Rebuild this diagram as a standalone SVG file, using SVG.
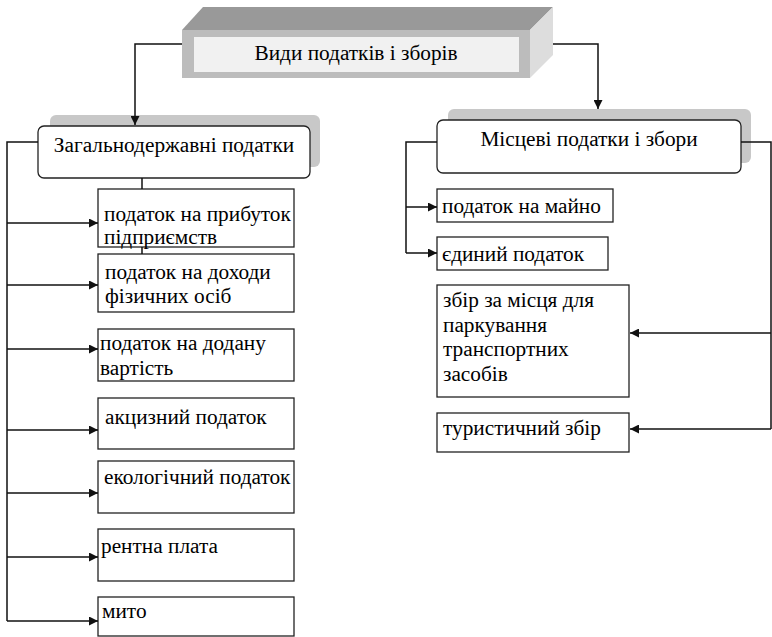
<svg xmlns="http://www.w3.org/2000/svg" width="772" height="637" viewBox="0 0 772 637" font-family="'Liberation Serif', 'Times New Roman', serif" font-size="21.3">
  <defs>
    <style>
      text { fill: #000; }
      .box { fill: #fff; stroke: #222; stroke-width: 1.3; }
      .rbox { fill: #fff; stroke: #222; stroke-width: 1.3; }
      .shadow { fill: #c8c8c8; }
      .wire { fill: none; stroke: #111; stroke-width: 1.5; }
    </style>
    <marker id="arrow" viewBox="0 0 10 10" refX="10" refY="5" markerWidth="10" markerHeight="9" markerUnits="userSpaceOnUse" orient="auto">
      <path d="M0,0 L10,5 L0,10 Z" fill="#111"/>
    </marker>
  </defs>

  <rect width="772" height="637" fill="#fff"/>

  <!-- root: 3D block -->
  <g id="root">
    <polygon points="182,30 203,7 553,7 530,30" fill="#999"/>
    <polygon points="530,30 553,7 553,55 530,78" fill="#ddd"/>
    <rect x="182" y="30" width="348" height="48" fill="#bcbcbc"/>
    <rect x="194" y="37" width="325" height="35" fill="#f1f1f1"/>
    <text x="356" y="60" text-anchor="middle">Види податків і зборів</text>
  </g>

  <!-- national taxes -->
  <g id="national">
    <rect class="shadow" x="50" y="115" width="270" height="52" rx="6"/>
    <rect class="rbox" x="38" y="126" width="272" height="52" rx="6"/>
    <text x="174" y="152" text-anchor="middle">Загальнодержавні податки</text>
  </g>

  <g id="n1">
    <rect class="box" x="98" y="189" width="196" height="58"/>
    <text x="104" y="221">податок на прибуток</text>
    <text x="104" y="244">підприємств</text>
  </g>
  <g id="n2">
    <rect class="box" x="98" y="254" width="196" height="58"/>
    <text x="105" y="279">податок на доходи</text>
    <text x="105" y="303">фізичних осіб</text>
  </g>
  <g id="n3">
    <rect class="box" x="98" y="329" width="196" height="52"/>
    <text x="100" y="350">податок на додану</text>
    <text x="100" y="375">вартість</text>
  </g>
  <g id="n4">
    <rect class="box" x="98" y="398" width="196" height="51"/>
    <text x="105" y="424">акцизний податок</text>
  </g>
  <g id="n5">
    <rect class="box" x="98" y="461" width="196" height="52"/>
    <text x="104" y="484">екологічний податок</text>
  </g>
  <g id="n6">
    <rect class="box" x="98" y="529" width="196" height="52"/>
    <text x="101" y="553">рентна плата</text>
  </g>
  <g id="n7">
    <rect class="box" x="98" y="597" width="196" height="39"/>
    <text x="102" y="618">мито</text>
  </g>

  <!-- local taxes and fees -->
  <g id="local">
    <rect class="shadow" x="448" y="109" width="303" height="54" rx="6"/>
    <rect class="rbox" x="437" y="120" width="304" height="53" rx="6"/>
    <text x="589" y="146" text-anchor="middle">Місцеві податки і збори</text>
  </g>

  <g id="l1">
    <rect class="box" x="437" y="189" width="176" height="33"/>
    <text x="442" y="213">податок на майно</text>
  </g>
  <g id="l2">
    <rect class="box" x="437" y="237" width="171" height="33"/>
    <text x="442" y="261">єдиний податок</text>
  </g>
  <g id="l3">
    <rect class="box" x="437" y="285" width="192" height="112"/>
    <text x="443" y="307">збір за місця для</text>
    <text x="443" y="332">паркування</text>
    <text x="443" y="356">транспортних</text>
    <text x="443" y="381">засобів</text>
  </g>
  <g id="l4">
    <rect class="box" x="437" y="413" width="192" height="39"/>
    <text x="443" y="435">туристичний збір</text>
  </g>

  <!-- connectors (drawn last so arrowheads sit on top of shadows) -->
  <g id="connectors">
    <path class="wire" d="M182,44 H135 V125" marker-end="url(#arrow)"/>
    <path class="wire" d="M553,44 H598 V109" marker-end="url(#arrow)"/>

    <!-- left trunk -->
    <path class="wire" d="M38,142 H7 V621"/>
    <path class="wire" d="M7,223 H98" marker-end="url(#arrow)"/>
    <path class="wire" d="M7,285 H98" marker-end="url(#arrow)"/>
    <path class="wire" d="M7,349 H98" marker-end="url(#arrow)"/>
    <path class="wire" d="M7,430 H98" marker-end="url(#arrow)"/>
    <path class="wire" d="M7,493 H98" marker-end="url(#arrow)"/>
    <path class="wire" d="M7,557 H98" marker-end="url(#arrow)"/>
    <path class="wire" d="M7,621 H98" marker-end="url(#arrow)"/>
    <path class="wire" d="M142,178 V189"/>
    <path class="wire" d="M142,247 V254"/>

    <!-- local: left trunk -->
    <path class="wire" d="M437,142 H406 V253"/>
    <path class="wire" d="M406,207 H437" marker-end="url(#arrow)"/>
    <path class="wire" d="M406,253 H437" marker-end="url(#arrow)"/>

    <!-- local: right trunk -->
    <path class="wire" d="M741,142 H771 V429"/>
    <path class="wire" d="M771,333 H630" marker-end="url(#arrow)"/>
    <path class="wire" d="M771,429 H630" marker-end="url(#arrow)"/>
  </g>
</svg>
